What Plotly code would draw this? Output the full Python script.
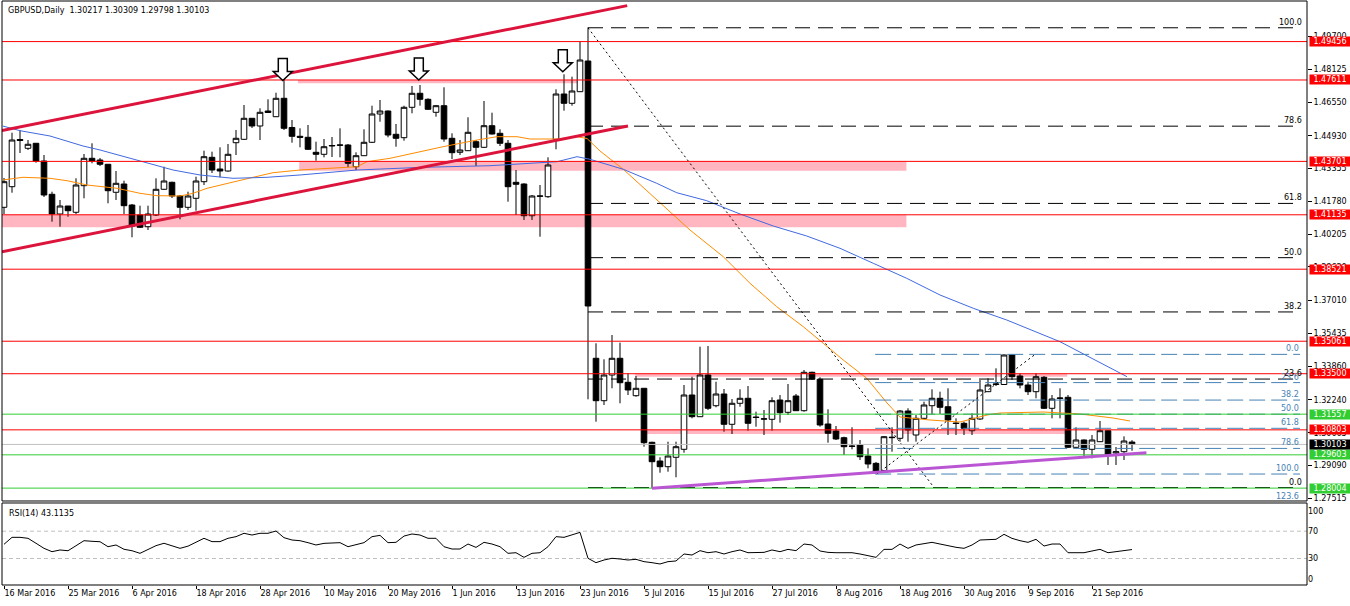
import plotly.graph_objects as go

# ---------------- data ----------------
date_labels = ["16 Mar 2016", "25 Mar 2016", "6 Apr 2016", "18 Apr 2016", "28 Apr 2016",
               "10 May 2016", "20 May 2016", "1 Jun 2016", "13 Jun 2016", "23 Jun 2016",
               "5 Jul 2016", "15 Jul 2016", "27 Jul 2016", "8 Aug 2016", "18 Aug 2016",
               "30 Aug 2016", "9 Sep 2016", "21 Sep 2016"]
date_label_bars = list(range(0, 137, 8))

ohlc = [
    (1.41495, 1.42903, 1.41173, 1.42725), (1.42485, 1.45079, 1.42196, 1.44728),
    (1.44752, 1.45209, 1.44104, 1.44704), (1.44329, 1.44728, 1.44248, 1.44522),
    (1.44570, 1.44584, 1.43638, 1.43719), (1.43719, 1.44007, 1.41990, 1.42086),
    (1.42120, 1.42244, 1.40803, 1.41173), (1.41173, 1.41846, 1.40563, 1.41557),
    (1.41557, 1.41557, 1.41043, 1.41332), (1.41255, 1.42888, 1.41173, 1.42566),
    (1.42533, 1.44056, 1.41927, 1.43849), (1.43849, 1.44570, 1.43609, 1.43719),
    (1.43767, 1.43863, 1.43479, 1.43561), (1.43561, 1.43575, 1.41687, 1.42292),
    (1.42216, 1.43239, 1.41846, 1.42648), (1.42614, 1.42773, 1.41173, 1.41572),
    (1.41605, 1.41654, 1.40054, 1.40597), (1.41125, 1.41572, 1.40500, 1.40534),
    (1.40563, 1.41572, 1.40404, 1.41173), (1.41125, 1.42888, 1.41077, 1.42360),
    (1.42360, 1.43445, 1.42326, 1.42758), (1.42696, 1.42725, 1.41942, 1.42038),
    (1.42038, 1.42086, 1.40918, 1.41495), (1.41495, 1.42244, 1.41365, 1.42038),
    (1.41927, 1.42965, 1.41332, 1.42758), (1.42725, 1.44214, 1.42566, 1.43926),
    (1.43897, 1.44166, 1.43143, 1.43287), (1.43335, 1.44377, 1.42936, 1.43239),
    (1.43239, 1.44536, 1.43205, 1.44041), (1.44598, 1.45209, 1.44007, 1.44810),
    (1.44762, 1.46410, 1.44728, 1.45771), (1.45771, 1.45785, 1.45305, 1.45401),
    (1.45401, 1.46251, 1.44728, 1.46059), (1.46121, 1.46683, 1.46025, 1.46049),
    (1.45847, 1.47000, 1.45833, 1.46731), (1.46731, 1.47755, 1.45209, 1.45290),
    (1.45329, 1.45689, 1.44598, 1.44906), (1.44906, 1.45290, 1.44377, 1.44858),
    (1.44858, 1.45449, 1.44248, 1.44281), (1.44137, 1.44646, 1.43734, 1.44041),
    (1.44041, 1.44776, 1.43897, 1.44406), (1.44440, 1.44872, 1.43911, 1.44464),
    (1.44473, 1.45290, 1.43897, 1.44488), (1.44488, 1.44536, 1.43417, 1.43609),
    (1.43445, 1.44137, 1.43287, 1.43974), (1.43974, 1.45242, 1.43959, 1.44618),
    (1.44618, 1.46376, 1.44584, 1.45977), (1.45977, 1.46650, 1.45607, 1.46121),
    (1.46121, 1.46145, 1.44858, 1.44968), (1.45002, 1.45497, 1.44406, 1.44810),
    (1.44839, 1.46376, 1.44694, 1.46299), (1.46299, 1.47322, 1.46011, 1.46972),
    (1.46972, 1.47370, 1.46376, 1.46683), (1.46683, 1.46731, 1.46169, 1.46203),
    (1.46059, 1.46410, 1.45847, 1.46376), (1.46376, 1.47260, 1.44646, 1.44776),
    (1.44810, 1.45050, 1.43815, 1.44118), (1.44137, 1.44728, 1.44007, 1.44248),
    (1.44214, 1.45819, 1.44199, 1.45098), (1.44646, 1.44728, 1.43479, 1.44377),
    (1.44377, 1.46602, 1.44344, 1.45415), (1.45415, 1.46040, 1.44992, 1.45016),
    (1.45050, 1.45242, 1.44440, 1.44570), (1.44570, 1.44728, 1.41764, 1.42485),
    (1.42696, 1.43287, 1.41125, 1.42600), (1.42614, 1.42648, 1.40885, 1.41091),
    (1.41091, 1.42086, 1.40885, 1.42038), (1.42024, 1.42566, 1.40082, 1.42038),
    (1.42004, 1.43897, 1.41950, 1.43527), (1.44762, 1.47164, 1.44281, 1.46938),
    (1.46938, 1.47884, 1.46136, 1.46491), (1.46491, 1.47769, 1.46376, 1.47082),
    (1.47049, 1.49451, 1.47034, 1.48571), (1.48523, 1.50123, 1.32271, 1.36753),
    (1.34241, 1.34961, 1.31195, 1.32204), (1.32204, 1.34193, 1.31997, 1.33438),
    (1.33438, 1.35360, 1.32799, 1.34241), (1.34241, 1.34990, 1.32079, 1.33068),
    (1.33087, 1.33520, 1.32477, 1.32718), (1.32444, 1.33390, 1.32395, 1.32799),
    (1.32799, 1.32813, 1.29994, 1.30186), (1.30205, 1.30234, 1.27995, 1.29273),
    (1.29306, 1.29485, 1.28744, 1.29033), (1.29033, 1.30234, 1.28792, 1.29547),
    (1.29485, 1.30234, 1.28524, 1.29994), (1.29869, 1.32958, 1.29705, 1.32477),
    (1.32477, 1.33357, 1.31358, 1.31435), (1.31435, 1.34798, 1.31420, 1.33438),
    (1.33438, 1.34832, 1.31757, 1.31838), (1.31963, 1.33116, 1.31887, 1.32525),
    (1.32525, 1.32766, 1.30714, 1.31070), (1.31070, 1.32285, 1.30604, 1.32079),
    (1.32079, 1.32751, 1.31915, 1.32319), (1.32319, 1.32910, 1.30762, 1.31118),
    (1.31420, 1.31675, 1.30954, 1.31396), (1.31315, 1.31757, 1.30556, 1.31334),
    (1.31310, 1.32367, 1.30762, 1.32204), (1.32237, 1.32477, 1.31147, 1.31627),
    (1.31646, 1.33006, 1.31517, 1.32204), (1.32429, 1.32525, 1.31709, 1.31723),
    (1.31723, 1.33678, 1.31675, 1.33568), (1.33568, 1.33597, 1.33198, 1.33232),
    (1.33232, 1.33328, 1.30954, 1.31036), (1.31084, 1.31790, 1.30186, 1.30638),
    (1.30748, 1.30988, 1.30316, 1.30364), (1.30426, 1.30474, 1.29595, 1.29994),
    (1.30027, 1.30926, 1.29869, 1.30013), (1.30075, 1.30316, 1.29355, 1.29513),
    (1.29547, 1.29917, 1.28956, 1.29162), (1.29194, 1.29259, 1.28706, 1.28744),
    (1.28850, 1.30508, 1.28826, 1.30474), (1.30426, 1.30926, 1.29754, 1.30445),
    (1.30397, 1.31757, 1.30234, 1.31709), (1.31709, 1.31839, 1.30234, 1.30796),
    (1.30556, 1.31517, 1.30234, 1.31358), (1.31358, 1.32156, 1.31325, 1.31997),
    (1.31963, 1.32751, 1.31565, 1.32319), (1.32319, 1.32636, 1.31565, 1.31887),
    (1.31915, 1.32799, 1.30556, 1.31276), (1.31132, 1.31358, 1.30556, 1.31108),
    (1.31118, 1.31195, 1.30556, 1.30878), (1.30762, 1.31598, 1.30556, 1.31358),
    (1.31325, 1.33198, 1.31276, 1.32718), (1.32636, 1.33280, 1.32622, 1.32958),
    (1.32982, 1.33760, 1.32910, 1.33006), (1.32982, 1.34423, 1.32958, 1.34399),
    (1.34399, 1.34423, 1.33198, 1.33357), (1.33390, 1.33520, 1.32799, 1.32958),
    (1.32958, 1.33116, 1.32477, 1.32636), (1.32636, 1.33520, 1.32319, 1.33357),
    (1.33328, 1.33390, 1.31805, 1.31838), (1.31838, 1.32477, 1.31358, 1.32285),
    (1.32309, 1.32799, 1.31358, 1.32333), (1.32367, 1.32477, 1.29931, 1.29965),
    (1.29965, 1.30926, 1.29931, 1.30316), (1.30316, 1.30340, 1.29485, 1.29869),
    (1.29869, 1.30556, 1.29436, 1.30316), (1.30234, 1.31228, 1.30220, 1.30762),
    (1.30762, 1.30796, 1.29114, 1.29595), (1.29691, 1.29979, 1.29114, 1.29754),
    (1.29754, 1.30490, 1.29355, 1.30267), (1.30217, 1.30309, 1.29798, 1.30103),
]
bars = list(range(len(ohlc)))
opens = [r[0] for r in ohlc]
highs = [r[1] for r in ohlc]
lows = [r[2] for r in ohlc]
closes = [r[3] for r in ohlc]

rsi = [50.8, 61.0, 61.0, 59.6, 52.3, 44.9, 40.0, 42.5, 41.4, 48.8,
       56.1, 55.2, 54.6, 47.3, 49.8, 43.5, 41.4, 37.6, 43.5, 48.8,
       52.3, 48.8, 44.9, 48.1, 53.4, 59.6, 54.7, 54.7, 59.6, 62.0,
       66.9, 64.4, 66.9, 66.9, 70.3, 60.5, 57.1, 56.1, 53.2, 49.8,
       52.2, 53.2, 53.2, 47.3, 49.8, 53.2, 62.0, 63.9, 53.2, 53.7,
       62.9, 65.9, 64.4, 59.6, 59.6, 47.3, 43.9, 43.9, 51.2, 46.3,
       53.7, 51.2, 47.3, 37.6, 38.5, 31.7, 37.6, 38.5, 47.3, 62.0,
       61.0, 64.4, 68.3, 30.3, 23.9, 27.8, 30.3, 29.3, 27.8, 28.8,
       25.4, 23.9, 22.0, 25.4, 26.4, 36.6, 35.1, 41.5, 38.5, 40.0,
       36.6, 40.0, 42.5, 38.5, 39.0, 39.0, 42.5, 40.0, 43.4, 41.5,
       51.2, 49.8, 41.0, 39.0, 38.5, 38.5, 38.5, 36.6, 34.2, 31.7,
       43.4, 43.4, 51.2, 44.9, 49.8, 52.2, 53.7, 51.2, 48.3, 46.4,
       44.9, 49.8, 57.1, 58.1, 58.1, 65.4, 59.5, 56.1, 53.7, 58.1,
       48.3, 51.2, 51.2, 38.5, 39.0, 38.5, 41.0, 43.4, 38.5, 40.0,
       42.0, 43.1]

ma_orange_bar = [-0.16, 2.38, 5.75, 7.88, 10.38, 14.13, 17, 19.13, 22, 23.63,
                 25.38, 28.63, 31.13, 33.63, 37, 44.13, 45.38, 48.25, 52.38, 54.88,
                 59.13, 61.63, 64.13, 65.75, 69.13, 71.63, 72.88, 73.88, 74.5, 77.41,
                 81.59, 83.66, 85.75, 89.91, 93.25, 96.59, 99.91, 102.41, 104.91, 107.84,
                 110.38, 112, 113.25, 115.75, 119.5, 122.88, 124.5, 129.88, 134.5, 138.63,
                 140.75]
ma_orange_val = [1.42806, 1.42936, 1.42888, 1.42773, 1.42566, 1.42408, 1.42167, 1.42052, 1.42038, 1.42167,
                 1.42408, 1.42725, 1.42936, 1.43157, 1.43287, 1.43445, 1.43686, 1.43849, 1.44200, 1.44406,
                 1.44728, 1.44887, 1.44887, 1.44776, 1.44776, 1.44887, 1.44800, 1.44440, 1.44200, 1.43321,
                 1.41846, 1.41125, 1.40404, 1.39122, 1.37844, 1.36720, 1.35759, 1.34961, 1.34159, 1.33280,
                 1.32093, 1.31420, 1.31372, 1.31276, 1.31180, 1.31517, 1.31613, 1.31661, 1.31565, 1.31372,
                 1.31228]

ma_blue_bar = [-0.16, 2, 5.75, 9.88, 12, 15.38, 18.25, 21.13, 24.5, 28.63,
               32.88, 37, 44.13, 52.38, 60.75, 64.88, 69.13, 71.63, 73.25, 77.41,
               81.59, 84.09, 87.84, 92, 96.16, 100.34, 104.5, 108.66, 112.84, 117,
               121.16, 125.34, 129.5, 132, 136.38, 140.38]
ma_blue_val = [1.45401, 1.45175, 1.44920, 1.44440, 1.44248, 1.43897, 1.43609, 1.43287, 1.43047, 1.42888,
               1.42936, 1.43047, 1.43287, 1.43417, 1.43493, 1.43575, 1.43686, 1.43926, 1.43801, 1.43321,
               1.42648, 1.42196, 1.41812, 1.41173, 1.40596, 1.40116, 1.39525, 1.38804, 1.38084, 1.37282,
               1.36643, 1.36081, 1.35441, 1.35038, 1.34159, 1.33357]

red_levels = [1.49456, 1.47611, 1.43701, 1.41135, 1.38521, 1.35061, 1.33500, 1.30803]
green_levels = [1.31557, 1.29603, 1.28004]
current_price = 1.30103

# zones: (bar start, bar end, top price, bottom price)
zones = [(36.75, 72.4, 1.47611, 1.47452),
         (36.9, 112.8, 1.43701, 1.43254),
         (-0.25, 112.8, 1.41135, 1.40534),
         (78.9, 132.9, 1.33500, 1.33350),
         (80.1, 132.9, 1.30803, 1.30604)]

channel_upper = [(-0.25, 1.45180), (77.9, 1.51185)]
channel_lower = [(-0.25, 1.39362), (78.0, 1.45401)]
purple_line = [(81.0, 1.27995), (142.8, 1.29705)]

fib_black_names = ["100.0", "78.6", "61.8", "50.0", "38.2", "23.6", "0.0"]
fib_black_levels = [1.50120, 1.45393, 1.41682, 1.39075, 1.36468, 1.33243, 1.28030]
fib_black_trend = [(73.0, 1.50120), (116.25, 1.28030)]
fib_black_start = 73.0

fib_blue_names = ["0.0", "23.6", "38.2", "50.0", "61.8", "78.6", "100.0", "123.6"]
fib_blue_levels = [1.34430, 1.33073, 1.32234, 1.31555, 1.30877, 1.29911, 1.28680, 1.27323]
fib_blue_trend = [(109.1, 1.28680), (128.9, 1.34430)]
fib_blue_start = 108.9
fib_end = 162.0

arrow_bars = [34.85, 51.85, 69.85]
arrow_prices = [1.47590, 1.47610, 1.48010]

price_ticks = [1.49700, 1.48125, 1.46550, 1.44930, 1.43355, 1.41780, 1.40205, 1.38630,
               1.37010, 1.35435, 1.33860, 1.32240, 1.30665, 1.29090, 1.27515]
rsi_ticks = [100, 70, 30, 0]
rsi_levels = [70, 30]

title_text = "GBPUSD,Daily\u00a0\u00a01.30217 1.30309 1.29798 1.30103"
rsi_title = "RSI(14) 43.1135"

# ---------------- layout constants ----------------
FONT = "DejaVu Sans"
P_LO, P_HI = 1.27385, 1.51406
X_LO, X_HI = -0.25, 162.875
PRICE_DOM = [0.143836, 1.0]
RSI_DOM = [0.0, 0.140411]
RSI_LO, RSI_HI = -8.8, 111.3

RED = "#FF0000"
GREEN = "#32CD32"
PINK = "#FFB6C1"
CRIMSON = "#DC143C"
ORCHID = "#BA55D3"
STEEL = "#4682B4"


def py(p):
    return PRICE_DOM[0] + (p - P_LO) / (P_HI - P_LO) * (PRICE_DOM[1] - PRICE_DOM[0])


fig = go.Figure()

fig.add_trace(go.Candlestick(
    x=bars, open=opens, high=highs, low=lows, close=closes,
    increasing=dict(line=dict(color="black", width=1), fillcolor="white"),
    decreasing=dict(line=dict(color="black", width=1), fillcolor="black"),
    whiskerwidth=0, showlegend=False, hoverinfo="skip", xaxis="x", yaxis="y"))

fig.add_trace(go.Scatter(x=ma_orange_bar, y=ma_orange_val, mode="lines",
                         line=dict(color="#FF8C00", width=1), showlegend=False,
                         hoverinfo="skip", xaxis="x", yaxis="y"))
fig.add_trace(go.Scatter(x=ma_blue_bar, y=ma_blue_val, mode="lines",
                         line=dict(color="#4169E1", width=1), showlegend=False,
                         hoverinfo="skip", xaxis="x", yaxis="y"))

fig.add_trace(go.Scatter(x=bars, y=rsi, mode="lines", line=dict(color="black", width=1),
                         showlegend=False, hoverinfo="skip", xaxis="x", yaxis="y2"))

shapes = []
for b0, b1, ptop, pbot in zones:
    shapes.append(dict(type="rect", xref="x", yref="y", x0=b0, x1=b1, y0=pbot, y1=ptop,
                       fillcolor=PINK, line=dict(width=0), layer="below"))
for lv in rsi_levels:
    shapes.append(dict(type="line", xref="paper", yref="y2", x0=0, x1=1, y0=lv, y1=lv,
                       line=dict(color="#C0C0C0", width=1, dash="4px,3px"), layer="below"))
for lv in fib_black_levels:
    shapes.append(dict(type="line", xref="x", yref="y", x0=fib_black_start, x1=fib_end, y0=lv, y1=lv,
                       line=dict(color="black", width=1, dash="15px,8px")))
for lv in fib_blue_levels:
    shapes.append(dict(type="line", xref="x", yref="y", x0=fib_blue_start, x1=fib_end, y0=lv, y1=lv,
                       line=dict(color=STEEL, width=1, dash="16px,6px")))
for (a, b) in (fib_black_trend, fib_blue_trend):
    shapes.append(dict(type="line", xref="x", yref="y", x0=a[0], y0=a[1], x1=b[0], y1=b[1],
                       line=dict(color="black", width=1, dash="2px,3px")))
for lv in red_levels:
    shapes.append(dict(type="line", xref="paper", yref="y", x0=0, x1=1, y0=lv, y1=lv,
                       line=dict(color=RED, width=1)))
for lv in green_levels:
    shapes.append(dict(type="line", xref="paper", yref="y", x0=0, x1=1, y0=lv, y1=lv,
                       line=dict(color=GREEN, width=1)))
shapes.append(dict(type="line", xref="paper", yref="y", x0=0, x1=1, y0=current_price, y1=current_price,
                   line=dict(color="#C0C0C0", width=1)))
for ln, col in ((channel_upper, CRIMSON), (channel_lower, CRIMSON), (purple_line, ORCHID)):
    shapes.append(dict(type="line", xref="x", yref="y", x0=ln[0][0], y0=ln[0][1],
                       x1=ln[1][0], y1=ln[1][1], line=dict(color=col, width=3)))
arrow_path = "M0,0 L9.5,9 L4.5,9 L4.5,22 L-4.5,22 L-4.5,9 L-9.5,9 Z"
for b, p in zip(arrow_bars, arrow_prices):
    shapes.append(dict(type="path", xref="x", yref="y", xsizemode="pixel", ysizemode="pixel",
                       xanchor=b, yanchor=p, path=arrow_path, fillcolor="white",
                       line=dict(color="black", width=1.5)))
shapes.append(dict(type="rect", xref="paper", yref="paper", x0=0, x1=1, y0=PRICE_DOM[0], y1=1,
                   line=dict(color="black", width=1), fillcolor="rgba(0,0,0,0)"))
shapes.append(dict(type="rect", xref="paper", yref="paper", x0=0, x1=1, y0=RSI_DOM[0], y1=RSI_DOM[1],
                   line=dict(color="black", width=1), fillcolor="rgba(0,0,0,0)"))

annotations = []
annotations.append(dict(text=title_text, xref="paper", yref="paper", x=0, y=1, xanchor="left",
                        yanchor="top", xshift=4, yshift=-3, showarrow=False,
                        font=dict(family=FONT, size=8, color="black")))
annotations.append(dict(text=rsi_title, xref="paper", yref="paper", x=0, y=RSI_DOM[1], xanchor="left",
                        yanchor="top", xshift=5, yshift=-4, showarrow=False,
                        font=dict(family=FONT, size=8, color="black")))
for name, lv in zip(fib_black_names, fib_black_levels):
    annotations.append(dict(text=name, xref="paper", yref="paper", x=1, y=py(lv), xanchor="right",
                            yanchor="bottom", xshift=-3, yshift=-1, showarrow=False,
                            font=dict(family=FONT, size=8, color="black")))
for name, lv in zip(fib_blue_names, fib_blue_levels):
    annotations.append(dict(text=name, xref="paper", yref="paper", x=1, y=py(lv), xanchor="right",
                            yanchor="bottom", xshift=-6, yshift=-1, showarrow=False,
                            font=dict(family=FONT, size=8, color=STEEL)))


def price_box(v, col):
    return dict(text=f"{v:.5f}", xref="paper", yref="y", x=1, y=v, xanchor="left", yanchor="middle",
                xshift=2, showarrow=False, bgcolor=col, borderpad=0, width=40, align="center",
                font=dict(family=FONT, size=8, color="white"))


for lv in red_levels:
    annotations.append(price_box(lv, RED))
for lv in green_levels:
    annotations.append(price_box(lv, GREEN))
annotations.append(price_box(current_price, "black"))

fig.update_layout(
    width=1350, height=606,
    margin=dict(l=2, r=43, t=1, b=21, pad=0),
    paper_bgcolor="white", plot_bgcolor="white",
    font=dict(family=FONT, size=8, color="black"),
    showlegend=False,
    boxgap=0.3, boxgroupgap=0,
    xaxis=dict(range=[X_LO, X_HI], anchor="y2", showgrid=False, zeroline=False,
               showline=False, rangeslider=dict(visible=False),
               tickmode="array", tickvals=date_label_bars, ticktext=date_labels,
               ticks="outside", ticklen=3, tickcolor="black",
               ticklabelposition="outside right",
               tickfont=dict(family=FONT, size=8, color="black")),
    yaxis=dict(domain=PRICE_DOM, range=[P_LO, P_HI], side="right", anchor="x",
               showgrid=False, zeroline=False, showline=False,
               tickmode="array", tickvals=price_ticks, ticktext=[f"{v:.5f}" for v in price_ticks],
               ticks="outside", ticklen=4, tickcolor="black",
               tickfont=dict(family=FONT, size=8, color="black")),
    yaxis2=dict(domain=RSI_DOM, range=[RSI_LO, RSI_HI], side="right", anchor="x",
                showgrid=False, zeroline=False, showline=False,
                tickmode="array", tickvals=rsi_ticks, ticktext=[str(v) for v in rsi_ticks],
                ticks="", tickfont=dict(family=FONT, size=8, color="black")),
    shapes=shapes,
    annotations=annotations,
)

fig.write_html("out.html",
               config={"displayModeBar": False},
               post_script="document.body.style.margin='0';document.body.style.padding='0';"
                           "document.body.style.overflow='hidden';")
